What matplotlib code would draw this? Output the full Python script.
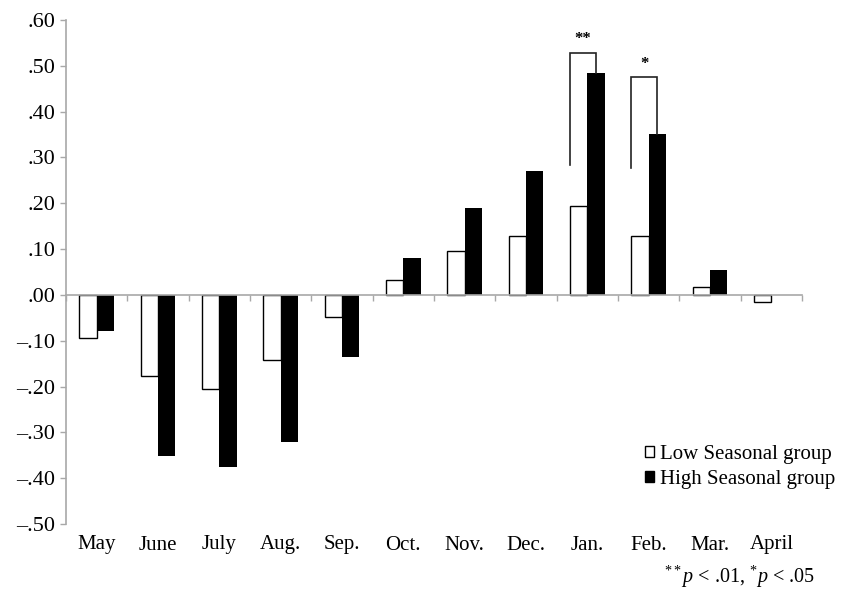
import numpy as np
import matplotlib
matplotlib.use("Agg")
import matplotlib.pyplot as plt
from matplotlib.patches import Patch
from matplotlib.transforms import blended_transform_factory

plt.rcParams['font.family'] = ['Liberation Serif', 'DejaVu Serif']
plt.rcParams['mathtext.fontset'] = 'custom'
plt.rcParams['mathtext.rm'] = 'Liberation Serif'
plt.rcParams['mathtext.it'] = 'Liberation Serif:italic'

months = ["May", "June", "July", "Aug.", "Sep.", "Oct.", "Nov.", "Dec.",
          "Jan.", "Feb.", "Mar.", "April"]
low_group = [-0.094, -0.176, -0.206, -0.142, -0.049, 0.033, 0.096, 0.129,
             0.193, 0.129, 0.018, -0.016]
high_group = [-0.078, -0.351, -0.376, -0.322, -0.135, 0.081, 0.189, 0.271,
              0.485, 0.351, 0.055, 0.0]
y_ticks = [-0.5, -0.4, -0.3, -0.2, -0.1, 0.0, 0.1, 0.2, 0.3, 0.4, 0.5, 0.6]

# significance brackets: month index, bracket top, left leg bottom, stars
brackets = [(8, 0.529, 0.284, "**"), (9, 0.475, 0.277, "*")]

fig = plt.figure(figsize=(8.47, 5.92), dpi=100)
ax = fig.add_axes([66 / 847, 1 - 524 / 592, 736 / 847, 504 / 592])

x = np.arange(len(months))
w = 0.28
ax.bar(x - w / 2, low_group, w, color="white", edgecolor="black", linewidth=1.0,
       label="Low Seasonal group", zorder=2)
ax.bar(x + w / 2, high_group, w, color="black", linewidth=0,
       label="High Seasonal group", zorder=2)

for i, top, leg, stars in brackets:
    xl = i - w
    xr = i + w / 2
    ax.plot([xl, xl, xr, xr], [leg, top, top, high_group[i]],
            color="#222222", lw=1.2, zorder=3, solid_joinstyle="miter")
    ax.text((xl + xr) / 2, top + 0.012, stars, ha="center", va="bottom",
            fontsize=12, fontweight="bold")

ax.set_xlim(-0.5, 11.5)
ax.set_ylim(-0.5, 0.6)

grey = "#a8a8a8"
for s in ["top", "right"]:
    ax.spines[s].set_visible(False)
ax.spines["left"].set_color(grey)
ax.spines["left"].set_linewidth(1.2)
ax.spines["bottom"].set_position(("data", 0))
ax.spines["bottom"].set_color(grey)
ax.spines["bottom"].set_linewidth(1.2)

ax.set_yticks(y_ticks)
ax.set_yticklabels([("%.2f" % v).replace("-0.", "\u2013.").replace("0.", ".", 1)
                    for v in y_ticks])
ax.tick_params(axis="y", direction="out", length=4, width=1, color=grey,
               labelsize=16, pad=4)

ax.set_xticks([])
ax.set_xticks(np.arange(-0.5, 12, 1), minor=True)
ax.tick_params(axis="x", which="minor", direction="out", length=4, width=1,
               color=grey, labelbottom=False)

trans = blended_transform_factory(ax.transData, fig.transFigure)
for xi, m in zip(x, months):
    ax.text(xi, 1 - 545 / 592, m, transform=trans, ha="center", va="center",
            fontsize=15)

handles = [Patch(facecolor="white", edgecolor="black", linewidth=1.0),
           Patch(facecolor="black", edgecolor="black")]
ax.legend(handles, ["Low Seasonal group", "High Seasonal group"],
          loc="upper left", bbox_to_anchor=(645 / 847, 1 - 445 / 592),
          bbox_transform=fig.transFigure, frameon=False, fontsize=15,
          handlelength=0.45, handleheight=0.45, handletextpad=0.25,
          labelspacing=0.3, borderpad=0, borderaxespad=0)

fig.text(815 / 847, 1 - 577 / 592,
         r"$^{**}\mathit{p}$ < .01, $^{*}\mathit{p}$ < .05",
         ha="right", va="center", fontsize=14.5)

fig.savefig("out.png", dpi=100)
